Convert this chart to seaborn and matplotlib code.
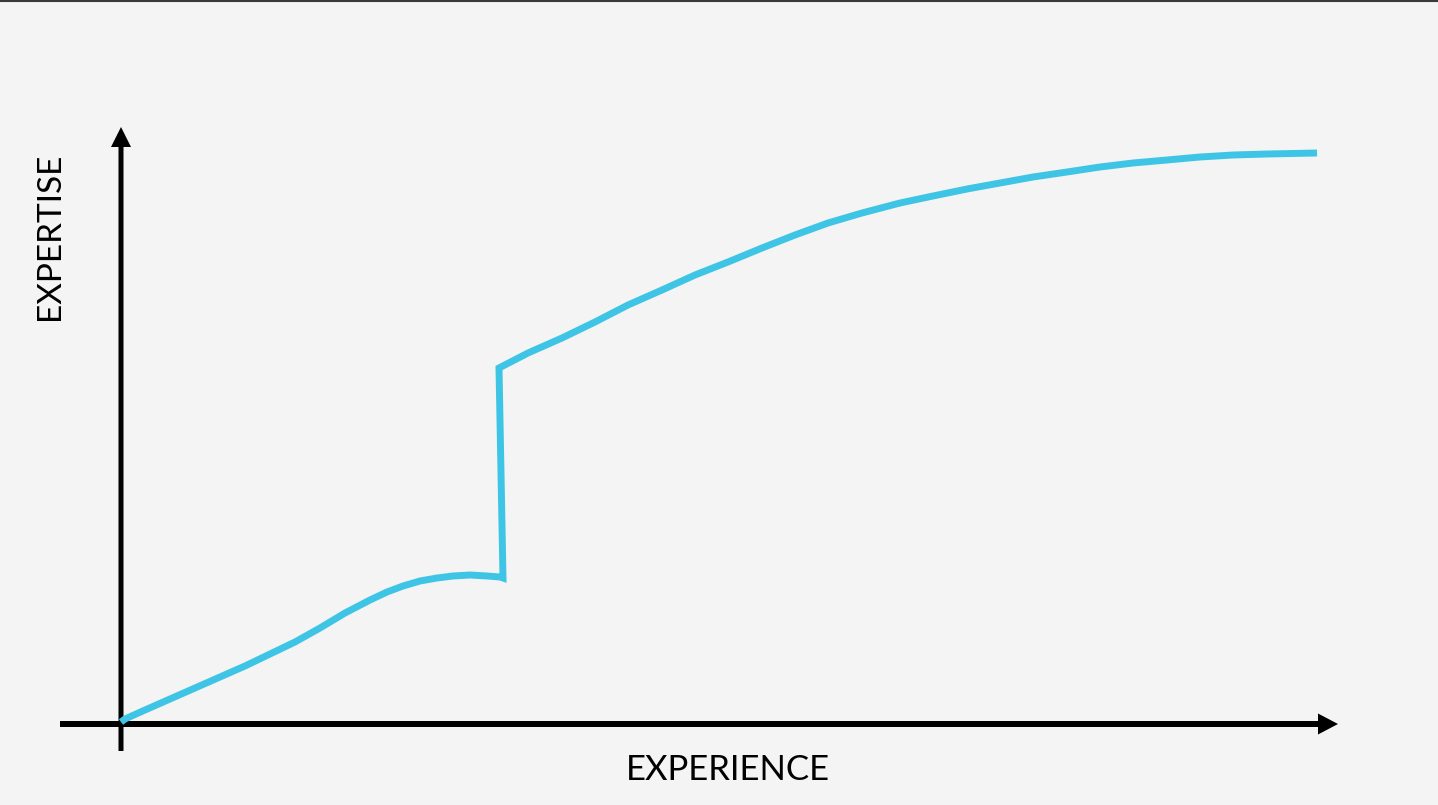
import matplotlib
matplotlib.use("Agg")
import matplotlib.pyplot as plt
from matplotlib.lines import Line2D
import seaborn as sns
import pandas as pd

# Curve (x = experience, y = expertise, origin at the axes' corner)
# slow start, plateau, sudden jump, then a flattening climb
experience = [0, 4, 24, 49, 74, 99, 124, 149, 174, 199, 224, 249, 266, 282,
              299, 316, 332, 349, 366, 379, 382,
              378, 407, 441, 474, 507, 541, 574, 607, 641, 674, 707, 741,
              779, 812, 846, 879, 912, 946, 979, 1012, 1046, 1079, 1112,
              1146, 1196]
expertise = [2, 5, 14, 25, 36, 47, 58, 70, 82, 96, 111, 124, 132, 138,
             143, 146, 148, 149, 148, 147, 146,
             356, 371, 386, 402, 419, 434, 449, 462, 476, 489, 501, 511,
             521, 528, 535, 541, 547, 552, 557, 561, 564, 567, 569,
             570, 571]

x_label = "EXPERIENCE"
y_label = "EXPERTISE"

BG = "#f4f4f4"
LINE_COLOR = "#3ec5e6"

sns.set_theme(style="white")
plt.rcParams["font.family"] = ["Lato", "DejaVu Sans"]

df = pd.DataFrame({"experience": experience, "expertise": expertise})

fig = plt.figure(figsize=(14.38, 8.05), dpi=100, facecolor=BG)
ax = fig.add_axes([0, 0, 1, 1])
ax.set_facecolor(BG)
ax.set_xlim(-121, 1317)
ax.set_ylim(-81, 724)
ax.axis("off")

# axes with arrow heads
ax.arrow(-61, 0, 1278, 0, width=6, head_width=21, head_length=20,
         length_includes_head=True, color="black", lw=0)
ax.arrow(0, -27, 0, 624, width=5, head_width=20, head_length=20,
         length_includes_head=True, color="black", lw=0)

sns.lineplot(data=df, x="experience", y="expertise", sort=False, estimator=None,
             color=LINE_COLOR, linewidth=5, ax=ax)
for ln in ax.get_lines():
    ln.set_solid_joinstyle("miter")
    ln.set_solid_capstyle("butt")

ax.text(607, -46, x_label, fontsize=25, ha="center", va="center", color="black")
ax.text(-71, 488, y_label, fontsize=24, rotation=90, ha="center", va="center",
        color="black")

# thin dark strip along the top edge
fig.add_artist(Line2D([0, 1], [0.999, 0.999], transform=fig.transFigure,
                      color="#3a3a3a", lw=1.5))

fig.savefig("out.png", dpi=100, facecolor=BG)
